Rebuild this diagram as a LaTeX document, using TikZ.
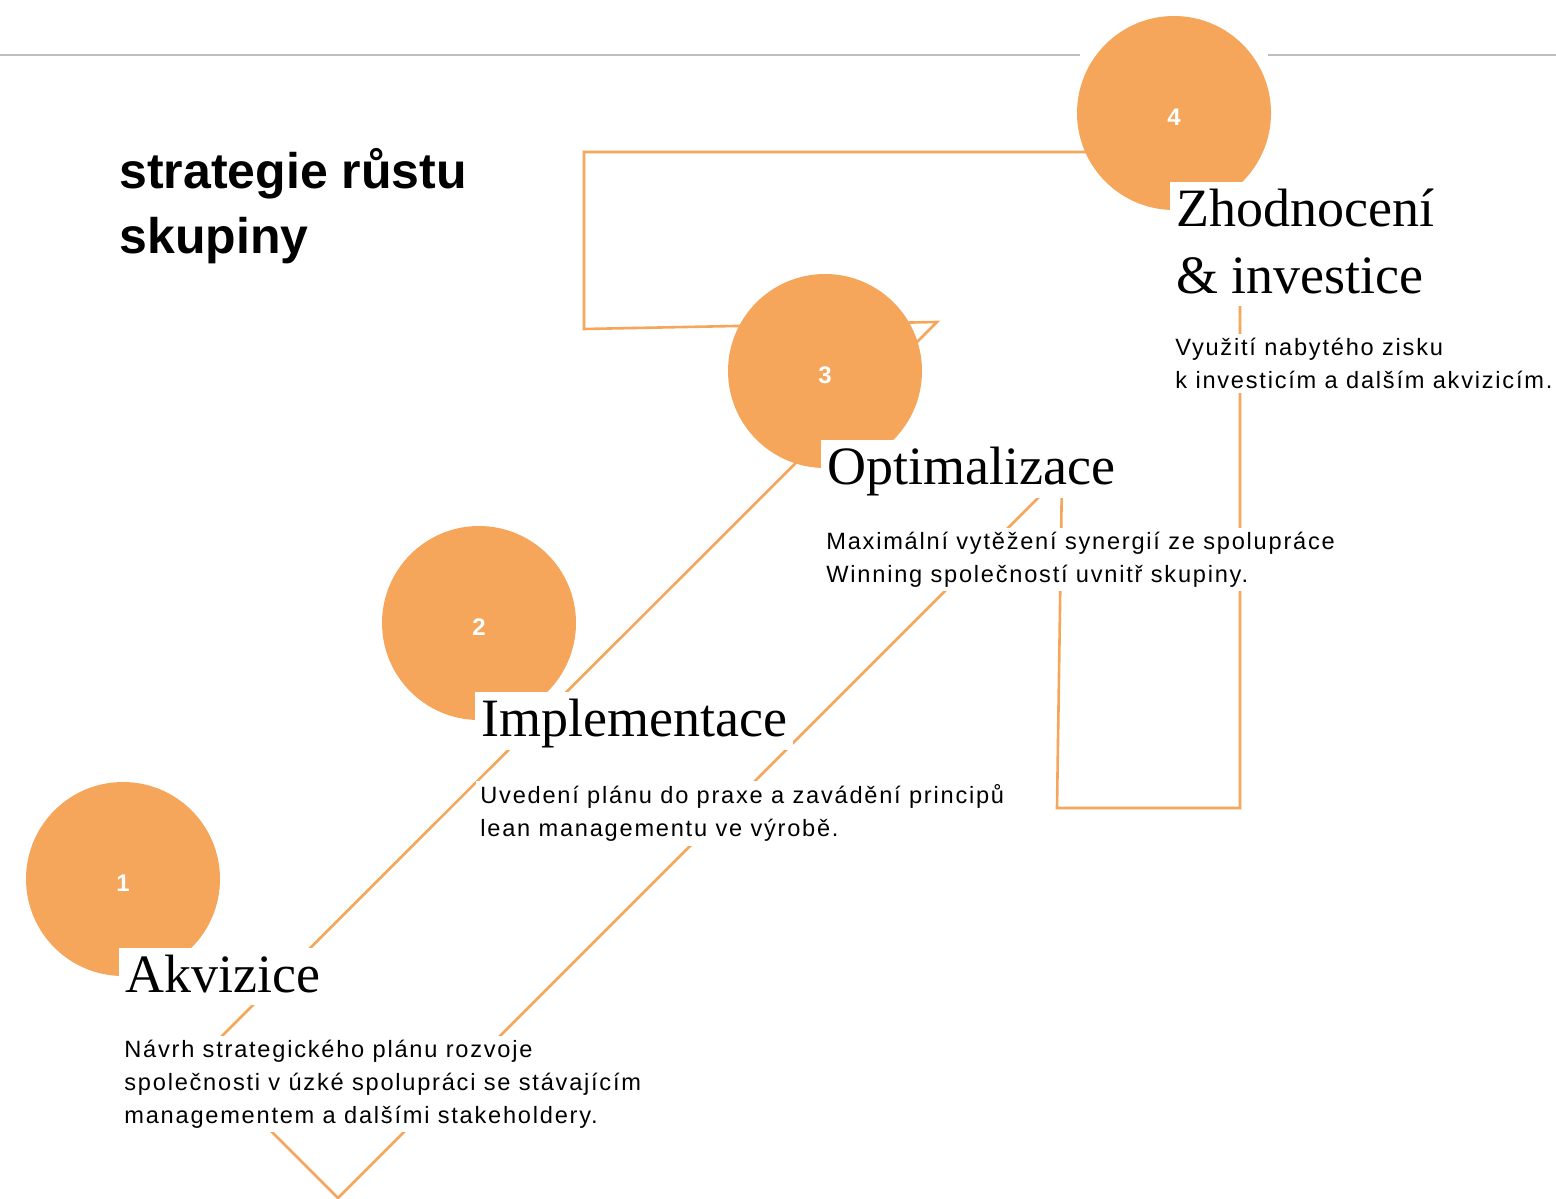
\documentclass[tikz,border=0pt]{standalone}
\usepackage{fontspec}
\setmainfont{Liberation Serif}
\newfontfamily\bodyfont[LetterSpace=7.5]{Liberation Sans}
\newfontfamily\headfont{Liberation Sans}
\usetikzlibrary{positioning}
\definecolor{winorange}{HTML}{F5A65B}
\definecolor{rulegray}{HTML}{BEBEBE}
\tikzset{
	stepdot/.style={circle,fill=winorange,minimum size=97pt,inner sep=0pt,text=white,
		text height=12.5pt,text depth=0pt,font=\headfont\bfseries\fontsize{12}{14}\selectfont},
	steptitle/.style={fill=white,inner xsep=3pt,inner ysep=1pt,align=left,
		font=\fontsize{27}{33.5}\selectfont},
	stepdesc/.style={fill=white,inner xsep=2pt,inner ysep=2pt,align=left,
		font=\bodyfont\fontsize{11.8}{16.5}\selectfont},
	route/.style={draw=winorange,line width=1.3pt,line join=miter}
}
\newcommand{\ttop}{\rule{0pt}{21pt}}
\newcommand{\tbot}{\rule[-5.5pt]{0pt}{5.5pt}}

\begin{document}
\begin{tikzpicture}[x=0.5pt,y=-0.5pt]
	\useasboundingbox (0,0) rectangle (1556,1198);
	% grey rule at the top
	\draw[rulegray,line width=1pt] (0,55)--(1080,55);
	\draw[rulegray,line width=1pt] (1268,55)--(1556,55);
	% orange route behind the steps
	\draw[route] (584,152)--(1240,152)--(1240,808)--(1057,808)--(1062,474)--(338,1198)
		--(199,1059)--(937,322)--(584,329)--cycle;
	% heading
	\node[anchor=north west,inner sep=0pt,align=left,
		font=\headfont\bfseries\fontsize{25}{32.5}\selectfont] (head) at (119,148)
		{strategie růstu\\skupiny};
	% steps
	\node[stepdot] (c1) at (123,879) {1};
	\node[stepdot] (c2) at (479,623) {2};
	\node[stepdot] (c3) at (825,371) {3};
	\node[stepdot] (c4) at (1174,113) {4};
	\node[steptitle,below right=34.5pt and -2pt of c1.center] (t1) {\ttop Akvizice\tbot};
	\node[steptitle,below right=34.5pt and -2pt of c2.center] (t2) {\ttop Implementace\tbot};
	\node[steptitle,below right=34.5pt and -2pt of c3.center] (t3) {\ttop Optimalizace\tbot};
	\node[steptitle,below right=34.5pt and -2pt of c4.center] (t4) {\ttop Zhodnocení\\\& investice\tbot};
	\node[stepdesc,below right=15pt and 0.5pt of t1.south west] (d1)
		{Návrh strategického plánu rozvoje\\společnosti v úzké spolupráci se stávajícím\\managementem a dalšími stakeholdery.};
	\node[stepdesc,below right=15pt and 0.5pt of t2.south west] (d2)
		{Uvedení plánu do praxe a zavádění principů\\lean managementu ve výrobě.};
	\node[stepdesc,below right=14.5pt and 0.5pt of t3.south west] (d3)
		{Maximální vytěžení synergií ze spolupráce\\Winning společností uvnitř skupiny.};
	\node[stepdesc,below right=13.5pt and 0.5pt of t4.south west] (d4)
		{Využití nabytého zisku\\k investicím a dalším akvizicím.};
\end{tikzpicture}
\end{document}
